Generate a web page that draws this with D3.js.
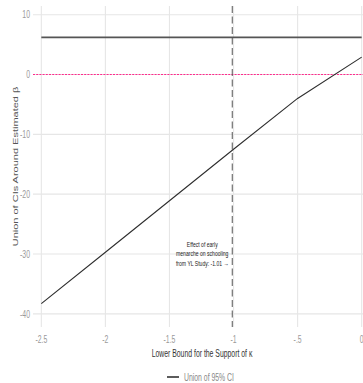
<!DOCTYPE html>
<html>
<head>
<meta charset="utf-8">
<script src="https://cdn.jsdelivr.net/npm/d3@7"></script>
<style>
  html, body { margin: 0; padding: 0; background: #fff; }
  svg { display: block; }
  text { font-family: "Liberation Sans", Arial, sans-serif; }
  .nss { vector-effect: non-scaling-stroke; }
</style>
</head>
<body>
<svg id="chart" width="363" height="383"></svg>
<script>
// Lower bound for the support of kappa
const kappaLower = [-2.5, -2, -1.5, -1, -0.5, 0];
// Union of 95% CIs around the estimated beta
const ciLow  = [-38.3, -29.7, -21.1, -12.5, -4.0, 2.9];
const ciHigh = [6.2, 6.2, 6.2, 6.2, 6.2, 6.2];

const xTicks = [-2.5, -2, -1.5, -1, -0.5, 0];
const xTickLabels = ["-2.5", "-2", "-1.5", "-1", "-.5", "0"];
const yTicks = [10, 0, -10, -20, -30, -40];
const yTickLabels = ["10", "0", "-10", "-20", "-30", "-40"];

const studyEffect = -1.01;
const studyNote = ["Effect of early", "menarche on schooling", "from YL Study: -1.01 \u2192"];
const legendLabel = "Union of 95% CI";

// The plot is laid out on a wider canvas and then compressed horizontally.
const sx = 0.625;
const panel = { left: 33 / sx, right: 370 / sx, top: 6, bottom: 327 };

const svg = d3.select("#chart");
const g = svg.append("g").attr("transform", `scale(${sx},1)`);

const x = d3.scaleLinear().domain([-2.565, 0.065]).range([panel.left, panel.right]);
const y = d3.scaleLinear().domain([11.45, -42.2]).range([panel.top, panel.bottom]);

// grid
g.append("g").selectAll("line").data(yTicks).join("line")
  .attr("class", "nss")
  .attr("x1", panel.left).attr("x2", panel.right)
  .attr("y1", d => y(d)).attr("y2", d => y(d))
  .attr("stroke", "#e6e6e6").attr("stroke-width", 1.1);
g.append("g").selectAll("line").data(xTicks).join("line")
  .attr("class", "nss")
  .attr("y1", panel.top).attr("y2", panel.bottom)
  .attr("x1", d => x(d)).attr("x2", d => x(d))
  .attr("stroke", "#e6e6e6").attr("stroke-width", 1.1);

// reference line at zero
g.append("line").attr("class", "nss")
  .attr("x1", panel.left).attr("x2", panel.right)
  .attr("y1", y(0)).attr("y2", y(0))
  .attr("stroke", "#ff2a8c").attr("stroke-width", 1)
  .attr("stroke-dasharray", "2,1.2");

// study estimate
g.append("line").attr("class", "nss")
  .attr("x1", x(studyEffect)).attr("x2", x(studyEffect))
  .attr("y1", panel.top).attr("y2", panel.bottom)
  .attr("stroke", "#555").attr("stroke-width", 1)
  .attr("stroke-dasharray", "7,3.5");

// CI bounds
const line = d3.line().x(d => x(d[0])).y(d => y(d[1]));
g.append("path").attr("class", "nss")
  .attr("d", line(d3.zip(kappaLower, ciHigh)))
  .attr("fill", "none").attr("stroke", "#555").attr("stroke-width", 1.8);
g.append("path").attr("class", "nss")
  .attr("d", line(d3.zip(kappaLower, ciLow)))
  .attr("fill", "none").attr("stroke", "#2e2e2e").attr("stroke-width", 1.1);

// annotation, one text element per line
g.append("g").selectAll("text").data(studyNote).join("text")
  .attr("x", x(studyEffect) - 30 / sx)
  .attr("y", (d, i) => 247 + i * 9.4)
  .attr("text-anchor", "middle")
  .attr("font-size", 8.1)
  .attr("fill", "#222")
  .text(d => d);

// axis labels
g.append("g").selectAll("text").data(yTicks).join("text")
  .attr("x", 30 / sx).attr("y", d => y(d) + 3.8)
  .attr("text-anchor", "end")
  .attr("font-size", 11).attr("fill", "#9a9a9a")
  .text((d, i) => yTickLabels[i]);
g.append("g").selectAll("text").data(xTicks).join("text")
  .attr("x", d => x(d)).attr("y", 343)
  .attr("text-anchor", "middle")
  .attr("font-size", 11).attr("fill", "#9a9a9a")
  .text((d, i) => xTickLabels[i]);

// axis titles
g.append("text")
  .attr("x", 202 / sx)
  .attr("y", 357)
  .attr("text-anchor", "middle")
  .attr("font-size", 11).attr("fill", "#333")
  .text("Lower Bound for the Support of \u03ba");
g.append("text")
  .attr("transform", `translate(${17.5 / sx},${(panel.top + panel.bottom) / 2}) rotate(-90)`)
  .attr("text-anchor", "middle")
  .attr("font-size", 11).attr("fill", "#555")
  .text("Union of CIs Around Estimated \u03b2");

// legend
g.append("line").attr("class", "nss")
  .attr("x1", 167 / sx).attr("x2", 179 / sx)
  .attr("y1", 377).attr("y2", 377)
  .attr("stroke", "#333").attr("stroke-width", 1.6);
g.append("text")
  .attr("x", 184 / sx).attr("y", 381)
  .attr("font-size", 11).attr("fill", "#888")
  .text(legendLabel);
</script>
</body>
</html>
